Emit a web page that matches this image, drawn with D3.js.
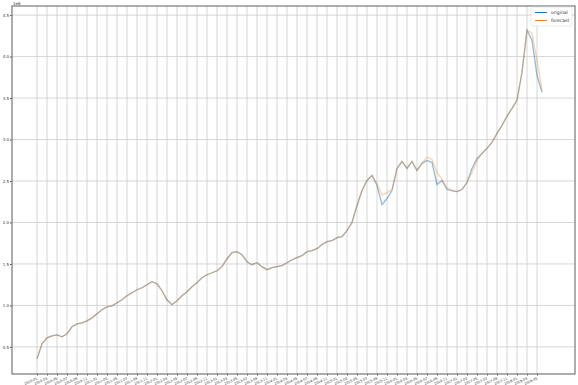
<!DOCTYPE html>
<html>
<head>
<meta charset="utf-8">
<script src="https://cdn.jsdelivr.net/npm/d3@7"></script>
<style>
  body { margin: 0; background: #fff; }
  text { font-family: "DejaVu Sans", sans-serif; fill: #333; }
</style>
</head>
<body>
<div id="wrapper"></div>
<script>
// monthly series (units of 1e6)
let startMonth = new Date(2010, 0, 1)

let original = [
  0.355, 0.536, 0.609, 0.633, 0.645, 0.621, 0.657, 0.742, 0.778, 0.790,
  0.814, 0.850, 0.899, 0.947, 0.983, 0.995, 1.032, 1.068, 1.116, 1.153,
  1.189, 1.213, 1.249, 1.286, 1.261, 1.177, 1.068, 1.008, 1.056, 1.116,
  1.165, 1.225, 1.273, 1.334, 1.370, 1.394, 1.418, 1.467, 1.563, 1.636,
  1.648, 1.612, 1.527, 1.491, 1.515, 1.467, 1.431, 1.455, 1.467, 1.479,
  1.515, 1.551, 1.576, 1.600, 1.648, 1.660, 1.684, 1.733, 1.769, 1.781,
  1.817, 1.829, 1.902, 1.999, 2.204, 2.385, 2.506, 2.567, 2.446, 2.216,
  2.289, 2.385, 2.651, 2.736, 2.651, 2.736, 2.627, 2.712, 2.748, 2.724,
  2.458, 2.506, 2.397, 2.385, 2.373, 2.397, 2.482, 2.651, 2.772, 2.832,
  2.893, 2.965, 3.074, 3.171, 3.280, 3.376, 3.473, 3.811, 4.319, 4.198,
  3.775, 3.570
]

let forecast = [
  0.355, 0.536, 0.609, 0.633, 0.645, 0.621, 0.657, 0.742, 0.778, 0.790,
  0.814, 0.850, 0.899, 0.947, 0.983, 0.995, 1.032, 1.068, 1.116, 1.153,
  1.189, 1.213, 1.249, 1.286, 1.261, 1.177, 1.068, 1.008, 1.056, 1.116,
  1.165, 1.225, 1.273, 1.334, 1.370, 1.394, 1.418, 1.467, 1.563, 1.636,
  1.648, 1.612, 1.527, 1.491, 1.515, 1.467, 1.431, 1.455, 1.467, 1.479,
  1.515, 1.551, 1.576, 1.600, 1.648, 1.660, 1.684, 1.733, 1.769, 1.781,
  1.817, 1.829, 1.902, 1.999, 2.204, 2.385, 2.506, 2.567, 2.470, 2.330,
  2.360, 2.400, 2.651, 2.736, 2.651, 2.736, 2.627, 2.712, 2.790, 2.760,
  2.600, 2.520, 2.420, 2.385, 2.373, 2.397, 2.482, 2.600, 2.740, 2.832,
  2.893, 2.965, 3.074, 3.171, 3.280, 3.376, 3.473, 3.811, 4.319, 4.280,
  3.950, 3.600
]

let yTicks = [0.5, 1.0, 1.5, 2.0, 2.5, 3.0, 3.5, 4.0, 4.5]
let seriesNames = ["original", "forecast"]
let seriesColors = ["#1f77b4", "#ff7f0e"]

let labels = d3.timeMonth.range(startMonth, d3.timeMonth.offset(startMonth, original.length))
  .map(d3.timeFormat("%Y-%m"))

let dimensions = {
  width: 578,
  height: 385,
  plot: { left: 12, right: 575, top: 6, bottom: 374 }
}

let svg = d3.select("#wrapper")
  .append("svg")
  .attr("width", dimensions.width)
  .attr("height", dimensions.height)

let p = dimensions.plot

let x = d3.scaleLinear()
  .domain([-5, 107.6])
  .range([p.left, p.right])

let y = d3.scaleLinear()
  .domain([0.173, 4.61])
  .range([p.bottom, p.top])

let tickIdx = d3.range(0, original.length, 2)

// vertical grid
svg.append("g")
  .selectAll("line")
  .data(tickIdx)
  .enter()
  .append("line")
    .attr("x1", d => x(d)).attr("x2", d => x(d))
    .attr("y1", p.top).attr("y2", p.bottom)
    .attr("stroke", "#cccccc")
    .attr("stroke-width", 0.8)

// horizontal grid
svg.append("g")
  .selectAll("line")
  .data(yTicks)
  .enter()
  .append("line")
    .attr("x1", p.left).attr("x2", p.right)
    .attr("y1", d => y(d)).attr("y2", d => y(d))
    .attr("stroke", "#cccccc")
    .attr("stroke-width", 0.8)

// lines
let line = d3.line()
  .x((d, i) => x(i))
  .y(d => y(d))

svg.append("path")
  .datum(original)
  .attr("fill", "none")
  .attr("stroke", seriesColors[0])
  .attr("stroke-opacity", 0.5)
  .attr("stroke-width", 1.3)
  .attr("d", line)

svg.append("path")
  .datum(forecast)
  .attr("fill", "none")
  .attr("stroke", seriesColors[1])
  .attr("stroke-opacity", 0.35)
  .attr("stroke-width", 1.3)
  .attr("d", line)

// y axis
let yAxis = svg.append("g")
  .attr("transform", `translate(${p.left},0)`)
  .call(d3.axisLeft(y).tickValues(yTicks).tickFormat(d3.format(".1f")).tickSize(2).tickPadding(1))
yAxis.select(".domain").remove()
yAxis.selectAll("line").attr("stroke", "#555")
yAxis.selectAll("text").style("font-size", "4px").attr("fill", "#444")

// x axis
let xAxis = svg.append("g")
  .attr("transform", `translate(0,${p.bottom})`)
  .call(d3.axisBottom(x).tickValues(tickIdx).tickFormat(i => labels[i]).tickSize(1.5).tickPadding(0.5))
xAxis.select(".domain").remove()
xAxis.selectAll("line").attr("stroke", "#555")
xAxis.selectAll("text")
  .style("font-size", "3.4px")
  .attr("fill", "#444")
  .attr("text-anchor", "end")
  .attr("dy", "0.3em")
  .attr("transform", "translate(-1,2.5) rotate(-25)")

// frame
svg.append("rect")
  .attr("x", p.left).attr("y", p.top)
  .attr("width", p.right - p.left).attr("height", p.bottom - p.top)
  .attr("fill", "none")
  .attr("stroke", "#777")
  .attr("stroke-width", 1.2)

// offset text
svg.append("text")
  .attr("x", p.left + 1).attr("y", p.top - 1.5)
  .style("font-size", "4px")
  .attr("fill", "#444")
  .text("1e6")

// legend
let legend = svg.append("g").attr("transform", "translate(531,7)")
legend.append("rect")
  .attr("width", 41).attr("height", 19).attr("rx", 1.5)
  .attr("fill", "#fff").attr("fill-opacity", 0.8)
  .attr("stroke", "#ddd").attr("stroke-width", 0.6)
seriesNames.forEach((name, i) => {
  legend.append("line")
    .attr("x1", 4).attr("x2", 16)
    .attr("y1", 5.5 + i * 8).attr("y2", 5.5 + i * 8)
    .attr("stroke", seriesColors[i])
    .attr("stroke-width", 1)
  legend.append("text")
    .attr("x", 20).attr("y", 7 + i * 8)
    .style("font-size", "4.5px")
    .attr("fill", "#444")
    .text(name)
})
</script>
</body>
</html>
